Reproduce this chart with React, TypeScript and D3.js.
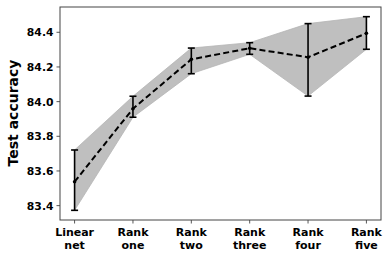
import React from "react";
import * as d3 from "d3";

const labelsTop = ["Linear", "Rank", "Rank", "Rank", "Rank", "Rank"];
const labelsBottom = ["net", "one", "two", "three", "four", "five"];
const means = [83.538, 83.959, 84.244, 84.308, 84.256, 84.394];
const lower = [83.373, 83.910, 84.161, 84.273, 84.032, 84.302];
const upper = [83.721, 84.031, 84.309, 84.340, 84.450, 84.490];
const yTicks = [83.4, 83.6, 83.8, 84.0, 84.2, 84.4];
const yLabel = "Test accuracy";

const W = 390, H = 258;
const L = 60, R = 381, T = 7, B = 220;

export default function App() {
  const idx = means.map((_, i) => i);
  const x = d3.scaleLinear().domain([-0.25, 5.25]).range([L, R]);
  const yMin = d3.min(lower)!, yMax = d3.max(upper)!;
  const pad = (yMax - yMin) * 0.05;
  const y = d3.scaleLinear().domain([yMin - pad, yMax + pad]).range([B, T]);

  const area = d3.area<number>().x((i) => x(i)).y0((i) => y(lower[i])).y1((i) => y(upper[i]));
  const line = d3.line<number>().x((i) => x(i)).y((i) => y(means[i]));
  const font = "'DejaVu Sans', sans-serif";

  return (
    <svg width={W} height={H} style={{ position: "absolute", left: 0, top: 0 }} fontFamily={font}>
      <rect x={0} y={0} width={W} height={H} fill="#fff" />
      <path d={area(idx)!} fill="#bfbfbf" stroke="#b5b5b5" strokeWidth={0.8} />
      {idx.map((i) => (
        <g key={"e" + i} stroke="#000" strokeWidth={1.6}>
          <line x1={x(i)} x2={x(i)} y1={y(lower[i])} y2={y(upper[i])} />
          <line x1={x(i) - 3.5} x2={x(i) + 3.5} y1={y(lower[i])} y2={y(lower[i])} />
          <line x1={x(i) - 3.5} x2={x(i) + 3.5} y1={y(upper[i])} y2={y(upper[i])} />
        </g>
      ))}
      <path d={line(idx)!} fill="none" stroke="#000" strokeWidth={2} strokeDasharray="6,3.2" />
      {idx.map((i) => (
        <circle key={"m" + i} cx={x(i)} cy={y(means[i])} r={1.8} fill="#000" />
      ))}
      <rect x={L} y={T} width={R - L} height={B - T} fill="none" stroke="#444" strokeWidth={1} />
      {yTicks.map((t) => (
        <g key={"y" + t}>
          <line x1={L - 3.5} x2={L} y1={y(t)} y2={y(t)} stroke="#444" strokeWidth={0.9} />
          <text x={L - 6.5} y={y(t)} dy="0.36em" textAnchor="end" fontSize={10.8} fontWeight="bold" fill="#000">
            {t.toFixed(1)}
          </text>
        </g>
      ))}
      {idx.map((i) => (
        <g key={"x" + i}>
          <line x1={x(i)} x2={x(i)} y1={B} y2={B + 3.5} stroke="#444" strokeWidth={0.9} />
          <text x={x(i)} y={236} textAnchor="middle" fontSize={11} fontWeight="bold" fill="#000">
            {labelsTop[i]}
          </text>
          <text x={x(i)} y={248.5} textAnchor="middle" fontSize={11} fontWeight="bold" fill="#000">
            {labelsBottom[i]}
          </text>
        </g>
      ))}
      <text
        transform={`translate(18,113) rotate(-90)`}
        textAnchor="middle"
        fontSize={14}
        fontWeight="bold"
        fill="#000"
      >
        {yLabel}
      </text>
    </svg>
  );
}
